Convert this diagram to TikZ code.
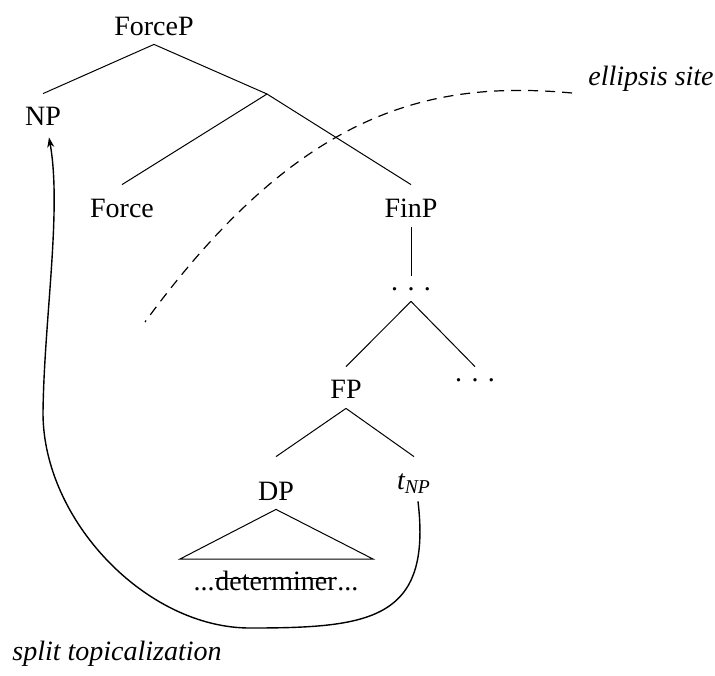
\documentclass[tikz,border=0pt]{standalone}
\usepackage{fontspec}
\setmainfont{Liberation Serif}
\usetikzlibrary{arrows.meta}

\begin{document}
\begin{tikzpicture}[
    x=0.5pt, y=-0.5pt,
    lbl/.style={inner sep=0pt, anchor=base, font=\fontsize{14pt}{17pt}\selectfont},
    top/.style={text height=#1},
    bot/.style={text depth=#1},
    branch/.style={line width=0.5pt},
    movement/.style={line width=0.7pt, -{Stealth[length=5pt, width=3.5pt, inset=1.5pt]}},
    site/.style={line width=0.6pt, dash pattern=on 5pt off 3.5pt},
  ]
  \useasboundingbox (0,0) rectangle (715,675);

  % tree labels
  \node[lbl, bot=4.5pt]              (ForceP) at (154,35)  {ForceP};
  \node[lbl, top=15.5pt, bot=6pt]    (NP)     at (43,125)  {NP};
  \coordinate                        (Fbar)   at (267,94);
  \node[lbl, top=16pt]               (Force)  at (122,217) {Force};
  \node[lbl, top=16pt, bot=5pt]      (FinP)   at (411,217) {FinP};
  \node[lbl, top=7pt, bot=5.5pt]     (dotsA)  at (411,290) {. . .};
  \node[lbl, top=15.5pt, bot=5pt]    (FP)     at (346,398) {FP};
  \node[lbl, top=7pt]                (dotsB)  at (475,381) {. . .};
  \node[lbl, top=21.5pt, bot=4.5pt]  (DP)     at (276,500) {DP};
  \node[lbl, top=16pt, bot=6pt]      (tNP)    at (414,489) {{\itshape t}\textsubscript{\itshape NP}};

  % branches
  \draw[branch] (ForceP.south) -- (NP.north);
  \draw[branch] (ForceP.south) -- (Fbar);
  \draw[branch] (Fbar) -- (Force.north);
  \draw[branch] (Fbar) -- (FinP.north);
  \draw[branch] (FinP.south) -- (dotsA.north);
  \draw[branch] (dotsA.south) -- (FP.north);
  \draw[branch] (dotsA.south) -- (dotsB.north);
  \draw[branch] (FP.south) -- (DP.north);
  \draw[branch] (FP.south) -- (tNP.north);

  % DP triangle and its struck-out content
  \coordinate (triL) at (180,559);
  \coordinate (triR) at (373,559);
  \draw[branch] (DP.south) -- (triL) -- (triR) -- cycle;
  \node[lbl] (detWord) at (276,590) {determiner};
  \node[lbl, anchor=base east] (detPre)  at (detWord.base west) {...};
  \node[lbl, anchor=base west] (detPost) at (detWord.base east) {...};
  \draw[line width=0.5pt] ([yshift=6pt]detWord.base west) -- ([yshift=6pt]detWord.base east);

  % movement of the NP out of the DP
  \draw[movement] ([xshift=2pt]tNP.south)
      .. controls (432,620) and (370,628) .. (250,628)
      .. controls (146,628) and (43,520) .. (43,413)
      .. controls (44,320) and (62,210) .. ([xshift=3pt]NP.south);

  % ellipsis site boundary
  \node[lbl, anchor=base west] (site) at (588,85) {\itshape ellipsis site};
  \coordinate (siteEnd) at (145,322);
  \draw[site] ([xshift=-8pt, yshift=-4pt]site.base west)
      .. controls (430,80) and (300,110) .. (siteEnd);

  % caption of the movement
  \node[lbl, anchor=base west] (split) at (12,660) {\itshape split topicalization};
\end{tikzpicture}
\end{document}
